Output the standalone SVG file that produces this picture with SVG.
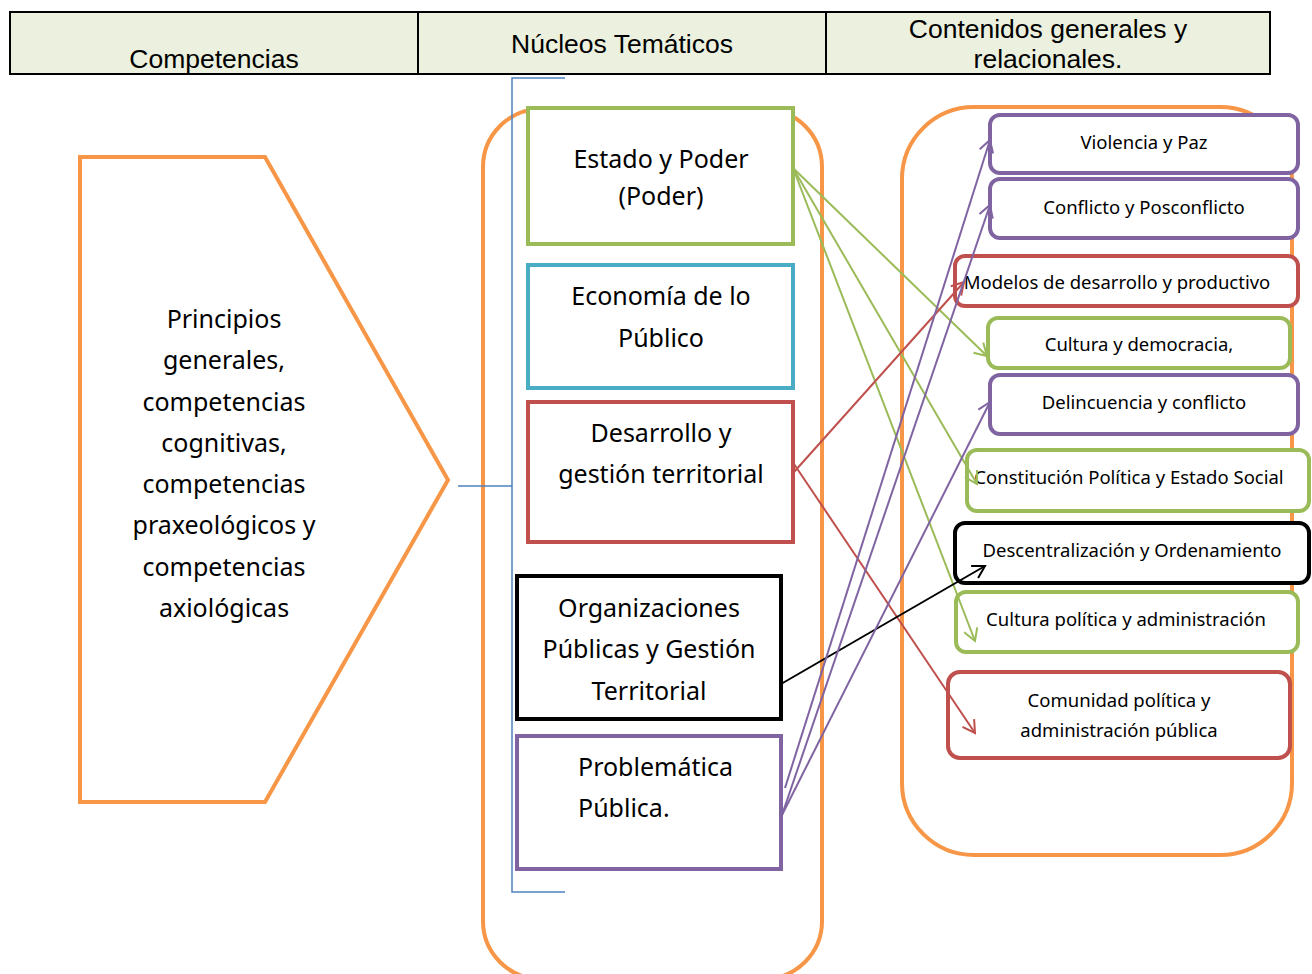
<svg xmlns="http://www.w3.org/2000/svg" width="1312" height="974" viewBox="0 0 1312 974">
<style>
.hdr{fill:#EBF1DE;stroke:#000;stroke-width:2}
.ht{font-family:"Liberation Sans",Arial,sans-serif;font-size:26.5px;fill:#000;text-anchor:middle}
.t{font-family:"Noto Sans",Lato,sans-serif;font-size:25px;fill:#000;text-anchor:middle}
.tl{font-family:"Noto Sans",Lato,sans-serif;font-size:25px;fill:#000;text-anchor:start}
.s{font-family:"Noto Sans",Lato,sans-serif;font-size:18.5px;fill:#000;text-anchor:middle}
.or{fill:none;stroke:#F79646;stroke-width:4}
.box{fill:#fff;stroke-width:4}
.c{fill:none;stroke-width:2}
</style>
<defs>
<marker id="ag" markerWidth="16" markerHeight="16" refX="13" refY="8" orient="auto" markerUnits="userSpaceOnUse"><path d="M1,1 L13,8 L1,15" fill="none" stroke="#9BBB59" stroke-width="2"/></marker>
<marker id="ar" markerWidth="16" markerHeight="16" refX="13" refY="8" orient="auto" markerUnits="userSpaceOnUse"><path d="M1,1 L13,8 L1,15" fill="none" stroke="#C0504D" stroke-width="2"/></marker>
<marker id="ap" markerWidth="16" markerHeight="16" refX="13" refY="8" orient="auto" markerUnits="userSpaceOnUse"><path d="M1,1 L13,8 L1,15" fill="none" stroke="#8064A2" stroke-width="2"/></marker>
<marker id="ak" markerWidth="16" markerHeight="16" refX="13" refY="8" orient="auto" markerUnits="userSpaceOnUse"><path d="M1,1 L13,8 L1,15" fill="none" stroke="#000" stroke-width="2"/></marker>
</defs>
<rect width="1312" height="974" fill="#fff"/>
<g id="header">
<rect class="hdr" x="10" y="12" width="408" height="62"/>
<rect class="hdr" x="418" y="12" width="408" height="62"/>
<rect class="hdr" x="826" y="12" width="444" height="62"/>
<text class="ht" x="214" y="68">Competencias</text>
<text class="ht" x="622" y="53">Núcleos Temáticos</text>
<text class="ht" x="1048" y="38">Contenidos generales y</text>
<text class="ht" x="1048" y="68">relacionales.</text>
</g>
<g id="competencias">
<path class="or" d="M80,157 L265,157 L448,480 L265,802 L80,802 Z" fill="#fff"/>
<text class="t" x="224" y="328">Principios</text>
<text class="t" x="224" y="369">generales,</text>
<text class="t" x="224" y="411">competencias</text>
<text class="t" x="224" y="452">cognitivas,</text>
<text class="t" x="224" y="493">competencias</text>
<text class="t" x="224" y="534">praxeológicos y</text>
<text class="t" x="224" y="576">competencias</text>
<text class="t" x="224" y="617">axiológicas</text>
</g>
<g id="contenedor-nucleos">
<rect class="or" x="483" y="109" width="339" height="870" rx="58" ry="58"/>
</g>
<g id="contenedor-contenidos">
<rect class="or" x="902" y="107" width="390" height="748" rx="72" ry="72"/>
</g>
<g id="llave">
<path d="M565,78 L512,78 L512,892 L565,892 M458,486 L512,486" fill="none" stroke="#4F81BD" stroke-width="1.5"/>
</g>
<g id="n-estado">
<rect class="box" x="528" y="108" width="265" height="136" stroke="#9BBB59"/>
<text class="t" x="661" y="168">Estado y Poder</text>
<text class="t" x="661" y="205">(Poder)</text>
</g>
<g id="n-economia">
<rect class="box" x="528" y="265" width="265" height="123" stroke="#4BACC6"/>
<text class="t" x="661" y="305">Economía de lo</text>
<text class="t" x="661" y="347">Público</text>
</g>
<g id="n-desarrollo">
<rect class="box" x="528" y="402" width="265" height="140" stroke="#C0504D"/>
<text class="t" x="661" y="442">Desarrollo y</text>
<text class="t" x="661" y="483">gestión territorial</text>
</g>
<g id="n-organizaciones">
<rect class="box" x="517" y="576" width="264" height="143" stroke="#000"/>
<text class="t" x="649" y="617">Organizaciones</text>
<text class="t" x="649" y="658">Públicas y Gestión</text>
<text class="t" x="649" y="700">Territorial</text>
</g>
<g id="n-problematica">
<rect class="box" x="517" y="736" width="264" height="133" stroke="#8064A2"/>
<text class="tl" x="578" y="776">Problemática</text>
<text class="tl" x="578" y="817">Pública.</text>
</g>
<g id="c-violencia">
<rect class="box" x="990" y="115" width="308" height="58" rx="10" stroke="#8064A2"/>
<text class="s" x="1144" y="149">Violencia y Paz</text>
</g>
<g id="c-conflicto">
<rect class="box" x="990" y="179" width="308" height="59" rx="10" stroke="#8064A2"/>
<text class="s" x="1144" y="214">Conflicto y Posconflicto</text>
</g>
<g id="c-modelos">
<rect class="box" x="955" y="256" width="343" height="50" rx="10" stroke="#C0504D"/>
<text class="s" x="1117" y="289">Modelos de desarrollo y productivo</text>
</g>
<g id="c-cultura-democracia">
<rect class="box" x="988" y="318" width="302" height="50" rx="10" stroke="#9BBB59"/>
<text class="s" x="1139" y="351">Cultura y democracia,</text>
</g>
<g id="c-delincuencia">
<rect class="box" x="990" y="375" width="308" height="59" rx="10" stroke="#8064A2"/>
<text class="s" x="1144" y="409">Delincuencia y conflicto</text>
</g>
<g id="c-constitucion">
<rect class="box" x="967" y="450" width="342" height="61" rx="10" stroke="#9BBB59"/>
<text class="s" x="1129" y="484">Constitución Política y Estado Social</text>
</g>
<g id="c-descentralizacion">
<rect class="box" x="955" y="523" width="354" height="60" rx="10" stroke="#000"/>
<text class="s" x="1132" y="557">Descentralización y Ordenamiento</text>
</g>
<g id="c-cultura-politica">
<rect class="box" x="956" y="592" width="342" height="60" rx="10" stroke="#9BBB59"/>
<text class="s" x="1126" y="626">Cultura política y administración</text>
</g>
<g id="c-comunidad">
<rect class="box" x="948" y="672" width="342" height="86" rx="12" stroke="#C0504D"/>
<text class="s" x="1119" y="707">Comunidad política y</text>
<text class="s" x="1119" y="737">administración pública</text>
</g>
<g id="connectors">
<line class="c" stroke="#9BBB59" x1="793" y1="168" x2="987" y2="356" marker-end="url(#ag)"/>
<line class="c" stroke="#9BBB59" x1="793" y1="168" x2="977" y2="484" marker-end="url(#ag)"/>
<line class="c" stroke="#9BBB59" x1="793" y1="168" x2="975" y2="641" marker-end="url(#ag)"/>
<line class="c" stroke="#C0504D" x1="794" y1="472" x2="964" y2="282" marker-end="url(#ar)"/>
<line class="c" stroke="#C0504D" x1="794" y1="464" x2="975" y2="733" marker-end="url(#ar)"/>
<line class="c" stroke="#000" x1="781" y1="684" x2="985" y2="566" marker-end="url(#ak)"/>
<line class="c" stroke="#8064A2" x1="785" y1="788" x2="990" y2="140" marker-end="url(#ap)"/>
<line class="c" stroke="#8064A2" x1="782" y1="815" x2="990" y2="205" marker-end="url(#ap)"/>
<line class="c" stroke="#8064A2" x1="782" y1="815" x2="990" y2="402" marker-end="url(#ap)"/>
</g>
</svg>
